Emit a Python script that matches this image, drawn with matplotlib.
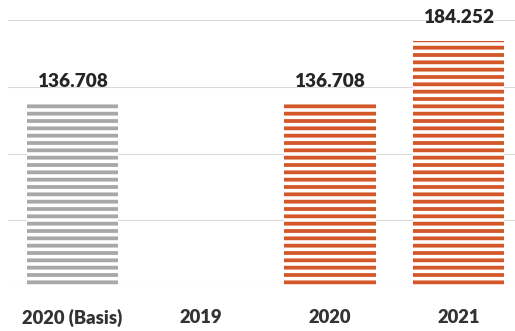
import matplotlib
matplotlib.use("Agg")
import matplotlib.pyplot as plt
import numpy as np

categories = ["2020 (Basis)", "2019", "2020", "2021"]
values = [136708, np.nan, 136708, 184252]
colors = ["#a8a8a8", "#d4572a", "#d4572a", "#d4572a"]
yticks = [0, 50000, 100000, 150000, 200000]

DPI = 88
plt.rcParams['hatch.linewidth'] = 3.1
plt.rcParams['font.family'] = ['Lato', 'DejaVu Sans']

fig = plt.figure(figsize=(515 / DPI, 331 / DPI), dpi=DPI)
W, H = 515, 331
left, right, top, bottom = 8, 523, 20, 287
ax = fig.add_axes([left / W, (H - bottom) / H, (right - left) / W, (bottom - top) / H])

x = np.arange(len(categories))
for xi, v, c in zip(x, values, colors):
    if np.isnan(v):
        continue
    ax.bar(xi, v, width=0.71, facecolor="white", edgecolor=c, hatch="--", linewidth=0, zorder=2)
    ax.annotate(f"{v:,.0f}".replace(",", "."), (xi, v), xytext=(0, 12), textcoords="offset points",
                ha="center", va="bottom", fontsize=15.5, fontweight="heavy", color="#262626", zorder=3)

ax.set_xlim(-0.5, 3.5)
ax.set_ylim(0, 200000)
ax.set_yticks(yticks)
ax.set_yticklabels([])
ax.yaxis.grid(True, color="#d9d9d9", linewidth=0.9)
ax.set_axisbelow(True)
ax.tick_params(axis="both", length=0)
ax.set_xticks(x)
ax.set_xticklabels(categories, fontsize=15, fontweight="heavy", color="#333333")
ax.tick_params(axis="x", pad=18)
for s in ax.spines.values():
    s.set_visible(False)

fig.savefig("out.png", dpi=DPI)
